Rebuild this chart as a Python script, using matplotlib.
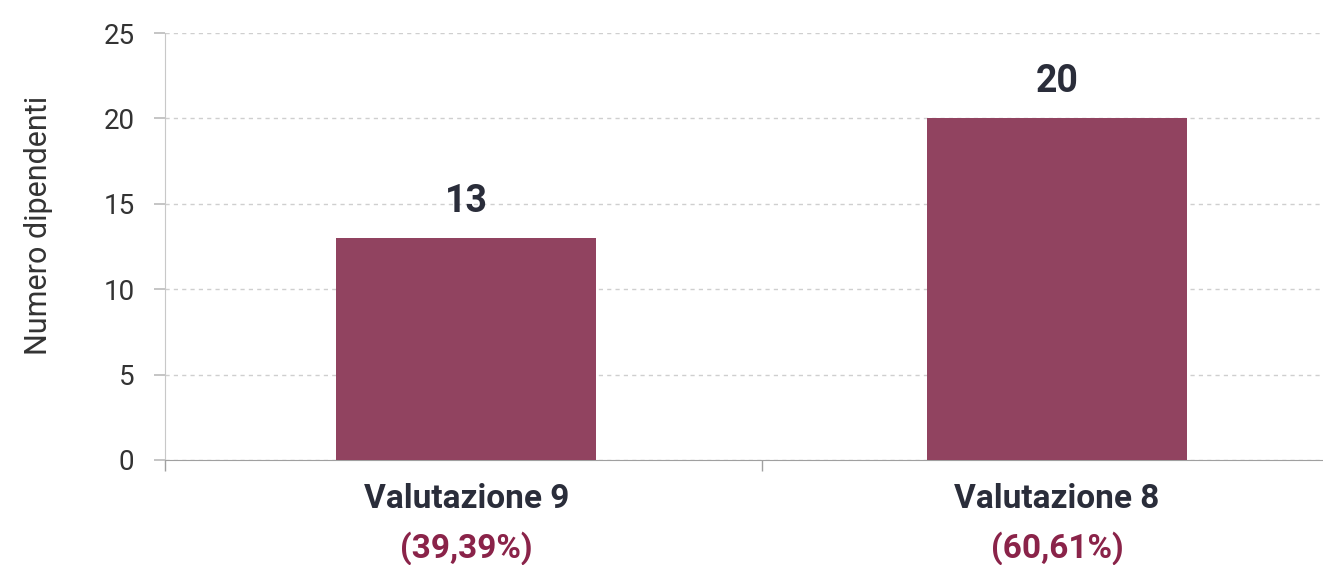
import matplotlib.pyplot as plt
import matplotlib.transforms as mtransforms

plt.rcParams['font.family'] = ['Roboto', 'DejaVu Sans']

# data
categorie = ['Valutazione 9', 'Valutazione 8']
dipendenti = [13, 20]
percentuali = ['(39,39%)', '(60,61%)']

bar_color = '#914360'
pct_color = '#8a2349'
text_color = '#2a2d3a'

fig = plt.figure(figsize=(13.23, 5.65), dpi=100)
ax = fig.add_axes([165 / 1323, 105 / 565, 1 - 165 / 1323, 427 / 565])

x = range(len(categorie))
ax.bar(x, dipendenti, width=0.44, color=bar_color, zorder=3)

ax.set_xlim(-0.51, 1.45)
ax.set_ylim(0, 25)
ax.set_yticks([0, 5, 10, 15, 20, 25])
ax.set_xticks([-0.51, 0.5])
ax.set_xticklabels([])
ax.grid(axis='y', linestyle=(0, (3, 3)), color='#cfcfcf', linewidth=1, zorder=0)

for s in ['top', 'right']:
    ax.spines[s].set_visible(False)
ax.spines['left'].set_color('#c8c8c8')
ax.spines['bottom'].set_color('#a0a0a0')
ax.tick_params(axis='y', colors='#bbbbbb', length=8, width=1.2, pad=14,
               labelsize=20, labelcolor='#333333')
ax.tick_params(axis='x', colors='#a0a0a0', length=8, width=1)

ax.set_ylabel('Numero dipendenti', fontsize=22, color='#333333')
ax.yaxis.set_label_coords(-0.097, 0.55)

# values above bars
for i, v in enumerate(dipendenti):
    ax.annotate(str(v), (i, v), xytext=(0, 13), textcoords='offset points',
                ha='center', va='bottom', fontsize=27, fontweight='bold',
                color=text_color)

# category labels
trans = mtransforms.blended_transform_factory(ax.transData, fig.transFigure)
for i, (c, p) in enumerate(zip(categorie, percentuali)):
    ax.text(i, 1 - 499 / 565, c, transform=trans, ha='center', va='center',
            fontsize=24, fontweight='bold', color=text_color)
    ax.text(i, 1 - 548 / 565, p, transform=trans, ha='center', va='center',
            fontsize=24, fontweight='bold', color=pct_color)

fig.savefig('out.png', dpi=100)
